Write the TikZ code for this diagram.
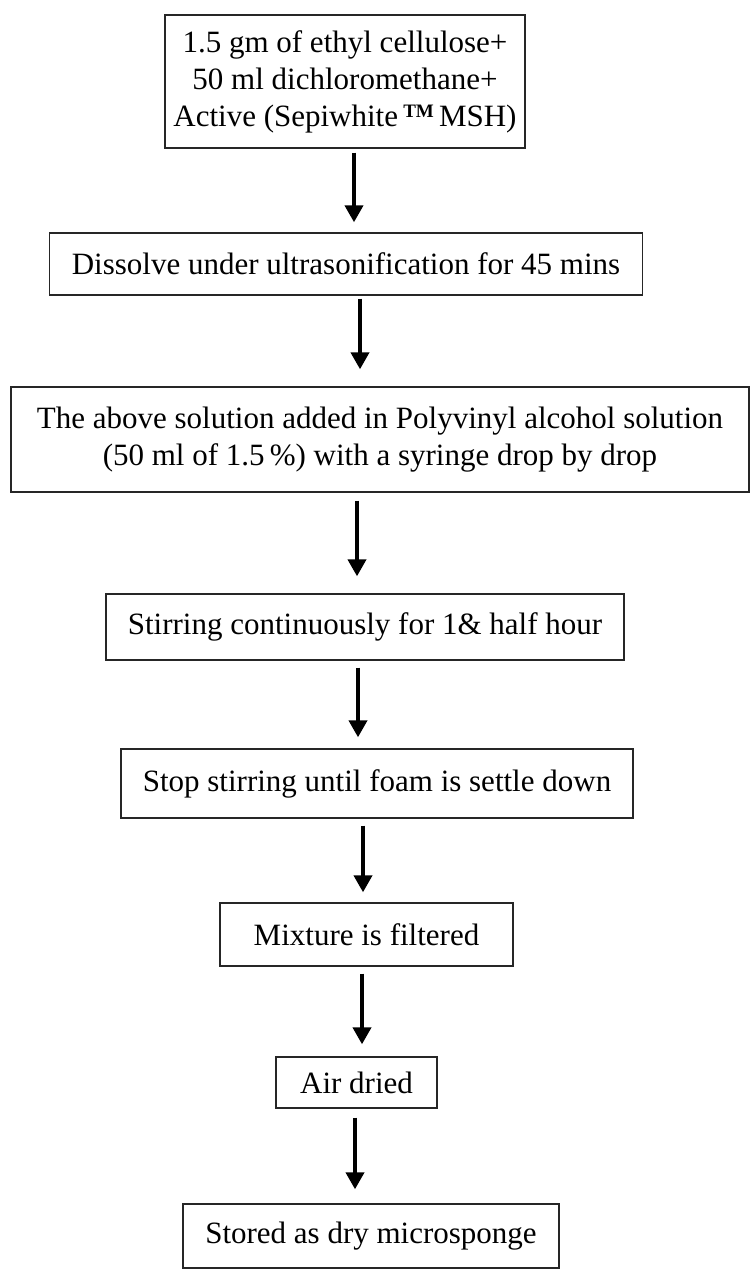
\documentclass[tikz,border=0pt]{standalone}
\usepackage{fontspec}
\setmainfont{Liberation Serif}
\usetikzlibrary{arrows.meta}
\tikzset{
  stepbox/.style={draw=black!85, line width=1.4pt, inner sep=0pt, align=center,
    font=\fontsize{31}{37}\selectfont},
  flowarrow/.style={line width=4pt, -{Triangle[length=17pt,width=18pt]}}
}
\begin{document}
\begin{tikzpicture}[x=1pt,y=-1pt]
\useasboundingbox (0,0) rectangle (751,1272);
\node[stepbox, minimum width=360pt, minimum height=133pt] (b1) at (345,81.5)
  {1.5 gm of ethyl cellulose+\\50 ml dichloromethane+\\Active (Sepiwhite\,\raisebox{0.6ex}{\fontsize{19}{19}\selectfont\bfseries TM}\,MSH)};
\node[stepbox, minimum width=593pt, minimum height=62pt] (b2) at (346,264)
  {Dissolve under ultrasonification for 45 mins};
\node[stepbox, minimum width=738pt, minimum height=105pt] (b3) at (380,439.5)
  {The above solution added in Polyvinyl alcohol solution\\(50 ml of 1.5\,\%) with a syringe drop by drop};
\node[stepbox, minimum width=518pt, minimum height=66pt] (b4) at (365,627)
  {Stirring continuously for 1\& half hour};
\node[stepbox, minimum width=512pt, minimum height=69pt] (b5) at (377,783.5)
  {Stop stirring until foam is settle down};
\node[stepbox, minimum width=293pt, minimum height=63pt] (b6) at (366.5,934.5)
  {Mixture is filtered};
\node[stepbox, minimum width=161pt, minimum height=51pt] (b7) at (356.5,1082.5)
  {Air dried};
\node[stepbox, minimum width=376pt, minimum height=64pt] (b8) at (371,1236)
  {Stored as dry microsponge};
\draw[flowarrow] ([xshift=9pt,yshift=-4pt]b1.south) -- ([xshift=8pt,yshift=10pt]b2.north);
\draw[flowarrow] ([xshift=14pt,yshift=-3pt]b2.south) -- ([xshift=-20pt,yshift=17pt]b3.north);
\draw[flowarrow] ([xshift=-23pt,yshift=-8pt]b3.south) -- ([xshift=-8pt,yshift=17pt]b4.north);
\draw[flowarrow] ([xshift=-7pt,yshift=-7pt]b4.south) -- ([xshift=-19pt,yshift=11pt]b5.north);
\draw[flowarrow] ([xshift=-14pt,yshift=-7pt]b5.south) -- ([xshift=-3.5pt,yshift=10pt]b6.north);
\draw[flowarrow] ([xshift=-4.5pt,yshift=-7pt]b6.south) -- ([xshift=5.5pt,yshift=12pt]b7.north);
\draw[flowarrow] ([xshift=-1.5pt,yshift=-9pt]b7.south) -- ([xshift=-16pt,yshift=14pt]b8.north);
\end{tikzpicture}
\end{document}
